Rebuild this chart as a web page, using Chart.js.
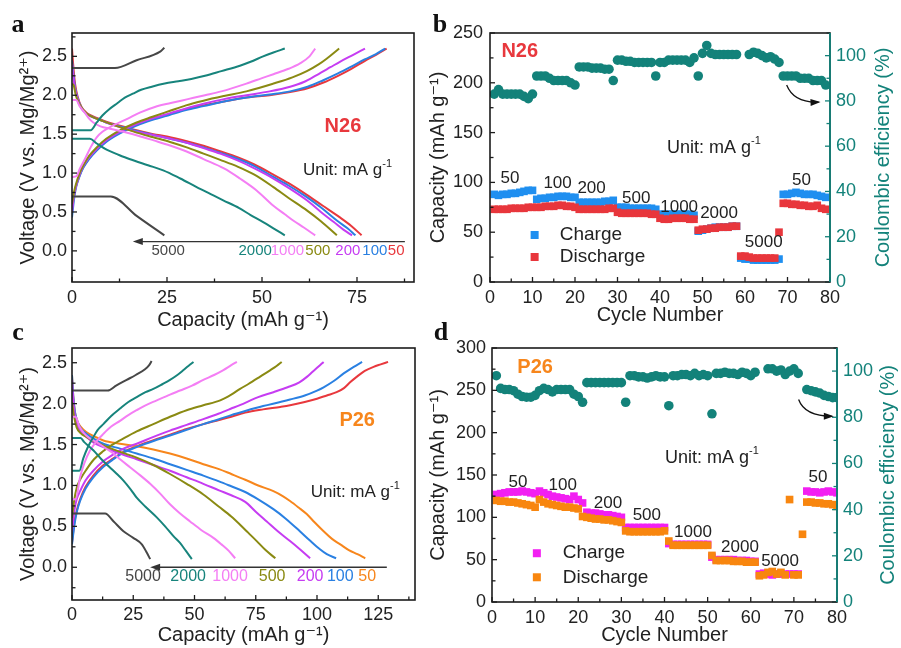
<!DOCTYPE html>
<html><head><meta charset="utf-8">
<script src="https://cdn.jsdelivr.net/npm/chart.js@4.4.1/dist/chart.umd.min.js"></script>
<style>
html,body{margin:0;padding:0;background:#fff;}
#wrap{position:relative;width:901px;height:648px;overflow:hidden;background:#fff;}
canvas{position:absolute;}
.lt{position:absolute;font:bold 26px "Liberation Serif","Times New Roman",serif;color:#111;transform:translate(-50%,-50%);line-height:1;}
</style></head><body>
<div id="wrap">
<canvas id="ca" width="450" height="335" style="left:0;top:0"></canvas>
<canvas id="cb" width="481" height="335" style="left:420px;top:0"></canvas>
<canvas id="cc" width="450" height="323" style="left:0;top:325px"></canvas>
<canvas id="cd" width="481" height="323" style="left:420px;top:325px"></canvas>
<div class="lt" style="left:18px;top:24px">a</div>
<div class="lt" style="left:440px;top:24px">b</div>
<div class="lt" style="left:18px;top:332px">c</div>
<div class="lt" style="left:441px;top:332px">d</div>
</div>
<script>
// ---------------- DATA ----------------
// Panel a (N26) galvanostatic curves: [capacity mAh/g, voltage V]
const aChg5000 = [[0,2.35],[11.3,2.35],[17,2.45],[23.2,2.56],[24.3,2.61]];
const aDis5000 = [[0,0.7],[10.2,0.7],[17,0.45],[24.3,0.2]];
const aChg2000 = [[0,1.55],[4.9,1.55],[6.5,1.65],[8,1.74],[9.8,1.82],[12,1.9],[13.9,1.97],[16,2.02],[18.2,2.07],[21,2.11],[24.4,2.15],[28,2.18],[31.4,2.21],[35,2.25],[39.3,2.31],[44.2,2.38],[47,2.43],[50.3,2.5],[53,2.55],[56,2.6]];
const aDis2000 = [[0,1.44],[4.7,1.44],[6.5,1.38],[9.1,1.3],[12,1.24],[15.1,1.18],[20,1.1],[24,1.035],[28.5,0.93],[32.8,0.82],[36.5,0.73],[39.8,0.65],[44,0.55],[47,0.46],[50.3,0.37],[53,0.29],[56,0.2]];
const aChg1000 = [[0,0.95],[1.2,0.96],[2,1.05],[3.4,1.18],[5,1.34],[6.5,1.46],[8,1.53],[10,1.59],[14.7,1.7],[18,1.78],[21.8,1.85],[26,1.9],[30.5,1.95],[35,2.0],[39.3,2.05],[45.9,2.15],[50,2.22],[53,2.27],[57,2.34],[60,2.41],[62.5,2.5],[64,2.6]];
const aDis1000 = [[0,1.94],[1.1,1.94],[2,1.86],[3.3,1.78],[4.5,1.7],[5.6,1.65],[7.5,1.6],[10,1.57],[13.5,1.53],[17.4,1.48],[21.5,1.42],[25.8,1.355],[30,1.28],[34.6,1.18],[40,1.06],[44.2,0.93],[48.5,0.78],[53,0.58],[56,0.47],[58.2,0.39],[61,0.3],[64,0.2]];
const aChg500 = [[0,0.6],[0.5,0.75],[1,0.85],[2,1.0],[3,1.1],[4.5,1.22],[6.5,1.33],[9,1.44],[12.6,1.55],[17,1.65],[21,1.72],[25.8,1.8],[30,1.87],[34.6,1.93],[40,1.99],[45.9,2.05],[53,2.15],[58,2.23],[61.8,2.31],[65,2.4],[67,2.47],[70.3,2.6]];
const aDis500 = [[0,2.15],[0.5,2.12],[1,2.0],[1.8,1.9],[2.8,1.82],[4,1.76],[5.5,1.72],[8,1.67],[12.6,1.59],[17,1.52],[21.4,1.46],[25.8,1.4],[30.2,1.33],[34.6,1.25],[39,1.17],[43.7,1.08],[48,0.98],[53,0.82],[57,0.68],[61.8,0.52],[65.5,0.38],[69.7,0.2]];
const aChg200 = [[0,0.5],[0.5,0.7],[1,0.82],[2,0.98],[3,1.09],[4.5,1.2],[6.5,1.31],[9,1.42],[12.6,1.53],[17,1.63],[21,1.7],[25.8,1.77],[30,1.83],[34.6,1.89],[40,1.95],[45.9,2.0],[52,2.05],[57.4,2.11],[61,2.17],[64.4,2.26],[68,2.36],[70.5,2.43],[74,2.52],[77.1,2.6]];
const aDis200 = [[0,2.4],[0.3,2.25],[0.8,2.08],[1.5,1.95],[2.5,1.83],[3.7,1.77],[5,1.73],[6.5,1.7],[9,1.65],[12.6,1.59],[17,1.53],[21.4,1.49],[25,1.45],[30.2,1.39],[34.6,1.32],[39,1.25],[43.7,1.16],[48,1.06],[53,0.93],[57,0.81],[61.8,0.65],[65.5,0.5],[68.9,0.37],[71.5,0.27],[73.7,0.2]];
const aChg100 = [[0,0.43],[0.5,0.65],[1,0.8],[2,0.96],[3,1.07],[4.5,1.18],[6.5,1.29],[9,1.4],[12.6,1.51],[17,1.61],[21,1.68],[25.8,1.75],[30,1.81],[34.6,1.86],[40,1.92],[45.9,1.97],[52,2.01],[57.4,2.05],[62,2.11],[66,2.19],[70,2.28],[73.2,2.36],[77,2.46],[80,2.53],[82.4,2.6]];
const aDis100 = [[0,2.45],[0.3,2.3],[0.8,2.1],[1.5,1.96],[2.5,1.84],[3.7,1.77],[5,1.73],[6.5,1.7],[9,1.65],[12.6,1.6],[17,1.54],[21.4,1.49],[25,1.45],[30.2,1.39],[34.6,1.33],[39,1.26],[43.7,1.18],[48,1.09],[53,0.95],[57,0.84],[61.8,0.69],[65.7,0.55],[69.7,0.39],[72.5,0.29],[74.6,0.2]];
const aChg50 = [[0,0.55],[0.5,0.7],[1,0.82],[2,0.97],[3,1.08],[4.5,1.19],[6.5,1.3],[9,1.41],[12.6,1.52],[17,1.62],[21,1.69],[25.8,1.76],[30,1.82],[34.6,1.87],[40,1.92],[45.9,1.97],[52,2.0],[57.4,2.04],[62,2.09],[66,2.16],[70,2.25],[73.5,2.34],[77,2.44],[80,2.52],[82.8,2.6]];
const aDis50 = [[0,2.6],[0.3,2.4],[0.8,2.15],[1.5,1.98],[2.5,1.85],[3.7,1.78],[5,1.74],[6.5,1.71],[9,1.66],[12.6,1.61],[17,1.55],[21.4,1.5],[25,1.47],[30.2,1.41],[34.6,1.35],[39,1.28],[43.7,1.2],[48,1.11],[53,0.98],[57,0.87],[61.8,0.72],[66,0.58],[70.5,0.43],[73.5,0.32],[76.2,0.2]];

// Panel c (P26) galvanostatic curves
const cChg5000 = [[0,2.16],[14.6,2.16],[18,2.22],[22.3,2.29],[26,2.35],[29.8,2.42],[31.5,2.47],[32.5,2.52]];
const cDis5000 = [[0,0.656],[13.5,0.656],[17,0.56],[21,0.44],[25,0.36],[28.5,0.28],[30.5,0.18],[31.9,0.1]];
const cChg2000 = [[0,1.18],[3,1.18],[4.6,1.33],[6.5,1.47],[8.7,1.59],[10.5,1.68],[12.8,1.75],[16,1.85],[19.6,1.94],[23,2.02],[26.4,2.08],[30,2.14],[33.2,2.18],[37,2.24],[40,2.29],[43,2.35],[45.5,2.41],[47.5,2.46],[49.6,2.51]];
const cDis2000 = [[0,1.58],[3.5,1.58],[5,1.53],[8.7,1.43],[12,1.32],[15.5,1.22],[18,1.15],[21,1.06],[24,0.95],[26.4,0.85],[30,0.74],[34.6,0.61],[38,0.5],[41.4,0.38],[44,0.3],[46.5,0.2],[48.9,0.1]];
const cChg1000 = [[0,0.83],[1.5,0.83],[3.3,1.1],[5,1.27],[7.4,1.43],[10,1.54],[12.8,1.63],[16,1.72],[19.6,1.79],[23,1.86],[26.4,1.92],[30,1.98],[34.6,2.04],[40,2.11],[44.1,2.16],[49,2.22],[53.6,2.29],[58,2.35],[61.8,2.41],[65,2.47],[67.3,2.51]];
const cDis1000 = [[0,1.84],[1.5,1.84],[3,1.72],[4.6,1.65],[7,1.58],[10,1.53],[13.5,1.46],[16.9,1.39],[20,1.31],[23.8,1.22],[28,1.12],[31.9,1.02],[36,0.9],[40,0.77],[44,0.66],[48.2,0.56],[53,0.45],[57.7,0.36],[61,0.28],[64,0.2],[66.6,0.11]];
const cChg500 = [[0,0.6],[0.8,0.8],[1.9,0.97],[3.5,1.08],[6,1.2],[9,1.32],[12.8,1.42],[16,1.49],[19.6,1.55],[26.4,1.66],[33.2,1.75],[40,1.84],[46.8,1.92],[53.6,1.98],[60.5,2.04],[65,2.11],[68.6,2.18],[72,2.24],[76.8,2.33],[81,2.41],[83.5,2.46],[85.6,2.51]];
const cDis500 = [[0,2.02],[0.8,1.85],[1.9,1.71],[3.5,1.64],[6,1.59],[9,1.54],[12.8,1.49],[19.6,1.41],[26.4,1.34],[33.2,1.25],[40,1.14],[46.8,1.02],[53.6,0.89],[60,0.74],[65,0.62],[68.6,0.52],[72,0.42],[75.4,0.32],[79,0.21],[83,0.11]];
const cChg200 = [[0,0.44],[1,0.7],[2,0.84],[3.3,0.93],[5.5,1.06],[8.7,1.18],[12.5,1.29],[16.9,1.38],[21,1.45],[26.4,1.51],[33,1.59],[40,1.67],[46.8,1.74],[53.6,1.81],[60,1.88],[65,1.94],[70.7,2.01],[76,2.08],[82.2,2.14],[88,2.2],[92.8,2.26],[96,2.33],[98.2,2.39],[100.5,2.45],[102.7,2.51]];
const cDis200 = [[0,2.29],[0.5,2.05],[1.2,1.85],[2,1.75],[3.5,1.66],[6,1.59],[9,1.52],[12.8,1.47],[19.6,1.39],[26.4,1.32],[33.2,1.25],[40,1.18],[46.8,1.1],[53.6,1.02],[60,0.94],[65,0.88],[70.7,0.8],[75,0.68],[79.5,0.56],[84,0.44],[89,0.32],[93,0.22],[97.2,0.11]];
const cChg100 = [[0,0.28],[1,0.52],[2,0.68],[3.3,0.81],[5.5,0.96],[8.7,1.1],[12.5,1.22],[16.9,1.32],[21,1.4],[26.4,1.47],[33,1.54],[40,1.61],[46.8,1.68],[53.6,1.75],[60,1.81],[65,1.86],[70.7,1.91],[78,1.97],[85,2.02],[89,2.05],[95,2.1],[100,2.16],[102.7,2.2],[107,2.28],[110.9,2.37],[115,2.45],[118.4,2.51]];
const cDis100 = [[0,2.35],[0.5,2.1],[1.2,1.9],[2,1.8],[3.5,1.7],[6,1.63],[9,1.57],[12.8,1.51],[19.6,1.45],[26.4,1.39],[33.2,1.33],[40,1.26],[46.8,1.19],[53.6,1.12],[60,1.05],[65,0.99],[70.7,0.92],[76,0.83],[82.2,0.71],[87,0.6],[93,0.44],[97,0.33],[101.2,0.22],[104,0.16],[107.8,0.11]];
const cChg50 = [[0,0.3],[1,0.55],[2,0.7],[3.3,0.83],[5.5,0.98],[8.7,1.12],[12.5,1.24],[16.9,1.33],[21,1.41],[26.4,1.48],[33,1.55],[40,1.62],[46.8,1.69],[53.6,1.75],[60,1.8],[65,1.84],[70.7,1.89],[78,1.93],[85,1.96],[89,1.98],[95,2.02],[100,2.06],[104,2.1],[108,2.14],[111,2.19],[113.5,2.26],[116.3,2.33],[119.5,2.4],[123.1,2.45],[126,2.48],[129,2.51]];
const cDis50 = [[0,2.35],[0.5,2.1],[1.2,1.9],[2,1.8],[3.5,1.72],[6,1.65],[9,1.6],[12.8,1.55],[19.6,1.51],[26.4,1.48],[33.2,1.44],[40,1.39],[46.8,1.33],[53.6,1.26],[60,1.2],[65,1.14],[70.7,1.07],[76,1.0],[82.2,0.93],[86,0.87],[89,0.81],[92.5,0.73],[95.8,0.65],[99,0.55],[102.7,0.44],[106,0.35],[109.5,0.28],[113,0.21],[116.5,0.16],[119.7,0.11]];

// Panel b (N26) rate performance
const bCycles = [1,2,3,4,5,6,7,8,9,10,11,12,13,14,15,16,17,18,19,20,21,22,23,24,25,26,27,28,29,30,31,32,33,34,35,36,37,38,39,40,41,42,43,44,45,46,47,48,49,50,51,52,53,54,55,56,57,58,59,60,61,62,63,64,65,66,67,68,69,70,71,72,73,74,75,76,77,78,79];
const bCharge = [88,87,88,88,89,89,90,91,92,92, 83,84,84,85,85,86,86,86,85,85, 80,80,80,80,80,80,81,81,82, 75,75,75,74,74,74,74,74,74,73, 68,68,68,68,68,68,68,68,67, 51,52,53,54,55,55,55,55,56,56, 24,23,23,22,22,22,22,22,22,23, 88,88,89,90,89,88,88,88,87,86,85];
const bDischarge = [73,73,73,73,74,74,74,74,75,75, 75,75,76,76,76,77,77,76,76,75, 73,73,73,73,73,73,73,74,74, 70,69,69,69,69,69,69,69,68,68, 64,63,63,64,64,64,64,63,63, 52,53,53,54,54,55,55,55,56,56, 26,26,25,24,24,24,24,24,24,50, 79,79,78,78,77,77,76,76,77,74,73];
const bCE = [83,85,83,83,83,83,83,82,81,83, 91,91,91,90,89,89,89,89,88,87, 95,95,95,94.5,94.5,94.5,94,94,89, 98,98,97.5,97.5,97,97,97,97,97,91, 97,97,98,98,98,98,98,97,99, 91,101,104.5,101,100.5,100.5,100.5,100.5,100.5,100.5, null,null,100.5,101.5,101,100,99,99.5,98.5,97, 91,91,91,91,90,90,90,89,89,89,87];

// Panel d (P26) rate performance
const dCycles = [1,2,3,4,5,6,7,8,9,10,11,12,13,14,15,16,17,18,19,20,21,22,23,24,25,26,27,28,29,30,31,32,33,34,35,36,37,38,39,40,41,42,43,44,45,46,47,48,49,50,51,52,53,54,55,56,57,58,59,60,61,62,63,64,65,66,67,68,69,70,71,72,73,74,75,76,77,78,79,80];
const dCharge = [127,128,129,130,130,130,131,130,129,128, 131,129,127,125,124,123,122,121,125,121, 117,106,105,105,104,103,103,102,101,100, 88,88,88,88,88,88,88,88,88,88, 69,68,68,68,68,68,68,68,68,68, 53,50,50,50,50,50,49,49,49,48,48, 33,34,33,32,33,33,33,33,33,33, null, 131,130,130,129,130,131,130,129];
const dDischarge = [120,119,119,118,118,117,116,115,114,112, 121,118,116,115,114,113,112,112,111,110, 101,100,99,98,98,97,97,96,95,94, 84,83,83,83,83,83,83,83,83,84, 72,67,67,67,67,67,67,67,67,67, 55,49,49,49,49,48,48,48,47,47,47, 31,32,35,36,33,35,32,121,32,32, 80, 118,118,117,117,116,116,115,113];
const dCE = [98,92.5,92,92,91.5,90,89,88.7,88.7,89.5, 91.5,92.5,92,91,92,92,92,92,90,89, 86.5,95,95,95,95,95,95,95,95,95, 86.5,98,98,97.5,97.5,97,97.5,98,97.5,97.5, 85,98,98,98.5,98.5,98,99,98,98.5,98, 81.5,99,99,99.5,99,99,98.5,99.5,99,98,99.5, null,null,101,101,100,100.5,98.5,100,101,99, null, 92,91.5,91,90.5,89.5,89,88.5,88.5];

// Tick values and labels
const aXTicks = [0,25,50,75], aXMinor = [12.5,37.5,62.5,87.5];
const vTicks = [0,0.5,1.0,1.5,2.0,2.5], vMinor = [-0.25,0.25,0.75,1.25,1.75,2.25,2.75];
const cXTicks = [0,25,50,75,100,125], cXMinor = [12.5,37.5,62.5,87.5,112.5,137.5];
const cycTicks = [0,10,20,30,40,50,60,70,80], cycMinor = [5,15,25,35,45,55,65,75];
const bYTicks = [0,50,100,150,200,250], bYMinor = [25,75,125,175,225];
const dYTicks = [0,50,100,150,200,250,300], dYMinor = [25,75,125,175,225,275];
const ceTicks = [0,20,40,60,80,100], ceMinor = [10,30,50,70,90,110];
const rateLabels = ['5000','2000','1000','500','200','100','50'];
const bRateLabels = ['50','100','200','500','1000','2000','5000','50'];

// ---------------- STYLE / RENDER ----------------
const SANS = '"Liberation Sans", Arial, "DejaVu Sans", sans-serif';
Chart.defaults.font.family = SANS;
Chart.defaults.color = '#222';
const C = {red:'#e8383d', blue:'#2a80e2', mag:'#c63cf2', olive:'#8a8a12', pink:'#f47ef4', teal:'#17847c', gray:'#474747', orange:'#f7861c',
           bCh:'#1f8ff0', bDis:'#e8363c', dCh:'#f21ff2', dDis:'#f8860f', ce:'#13827a'};
const AX = '#1c1c1c';

const toXY = arr => arr.map(p => ({x:p[0], y:p[1]}));
const zip = (xs, ys) => xs.map((x,i) => ({x:x, y:ys[i]}));
function curve(data, color){
  return {data:toXY(data), borderColor:color, backgroundColor:color, showLine:true, pointRadius:0, borderWidth:2,
          cubicInterpolationMode:'monotone', fill:false};
}
function axis(o){
  return {
    type:'linear', position:o.pos, min:o.min, max:o.max,
    afterBuildTicks: s => { s.ticks = o.ticks.map(v => ({value:v})); },
    afterFit: s => { if (o.pos === 'bottom') s.height = o.size; else s.width = o.size; },
    grid:{display:false, drawTicks:false}, border:{display:false},
    ticks:{padding:o.pad, color:o.color || '#222', font:{size:18}, autoSkip:false, maxRotation:0,
           callback: o.fmt || (v => String(v))},
    title:{display:!!o.title, text:o.title || '', color:o.color || '#222', font:{size:20}, padding:o.tpad || 0}
  };
}
function richText(ctx, parts, x, y, size, color, align, bold){
  const base = (bold ? 'bold ' : '') + size + 'px ' + SANS;
  const sup = Math.round(size * 0.62) + 'px ' + SANS;
  let w = 0;
  parts.forEach(p => { ctx.font = p[1] ? sup : base; w += ctx.measureText(p[0]).width; });
  let cx = align === 'left' ? x : (align === 'right' ? x - w : x - w / 2);
  ctx.fillStyle = color; ctx.textAlign = 'left'; ctx.textBaseline = 'middle';
  parts.forEach(p => { ctx.font = p[1] ? sup : base; ctx.fillText(p[0], cx, p[1] ? y - size * 0.38 : y); cx += ctx.measureText(p[0]).width; });
}
function hArrow(ctx, x1, x2, y, color){
  ctx.strokeStyle = color; ctx.fillStyle = color; ctx.lineWidth = 1.3;
  ctx.beginPath(); ctx.moveTo(x1 + 6, y); ctx.lineTo(x2, y); ctx.stroke();
  ctx.beginPath(); ctx.moveTo(x1, y); ctx.lineTo(x1 + 10, y - 3.5); ctx.lineTo(x1 + 10, y + 3.5); ctx.closePath(); ctx.fill();
}
function curveArrow(ctx, x0, y0, cx, cy, x1, y1){
  ctx.strokeStyle = '#111'; ctx.fillStyle = '#111'; ctx.lineWidth = 1.3;
  ctx.beginPath(); ctx.moveTo(x0, y0); ctx.quadraticCurveTo(cx, cy, x1, y1); ctx.stroke();
  const a = Math.atan2(y1 - cy, x1 - cx);
  ctx.beginPath(); ctx.moveTo(x1 + 2*Math.cos(a), y1 + 2*Math.sin(a));
  ctx.lineTo(x1 - 8*Math.cos(a) + 3.5*Math.sin(a), y1 - 8*Math.sin(a) - 3.5*Math.cos(a));
  ctx.lineTo(x1 - 8*Math.cos(a) - 3.5*Math.sin(a), y1 - 8*Math.sin(a) + 3.5*Math.cos(a));
  ctx.closePath(); ctx.fill();
}
function vTitle(ctx, text, x, y, color){
  ctx.save(); ctx.translate(x, y); ctx.rotate(-Math.PI / 2);
  ctx.font = '20px ' + SANS; ctx.fillStyle = color; ctx.textAlign = 'center'; ctx.textBaseline = 'middle';
  ctx.fillText(text, 0, 0); ctx.restore();
}
// frame + inward ticks + extras
function decor(spec){
  return {
    id:'decor',
    afterDatasetsDraw(chart){
      const ctx = chart.ctx, a = chart.chartArea;
      ctx.save();
      spec.ticks.forEach(t => {
        const sc = chart.scales[t.axis];
        ctx.strokeStyle = t.color || AX; ctx.lineWidth = 1.3;
        const draw = (v, L) => {
          const p = sc.getPixelForValue(v);
          if (p < a.top - 0.5 || p > a.bottom + 0.5 && t.side !== 'bottom') return;
          ctx.beginPath();
          if (t.side === 'bottom') { ctx.moveTo(p, a.bottom); ctx.lineTo(p, a.bottom - L); }
          else if (t.side === 'left') { ctx.moveTo(a.left, p); ctx.lineTo(a.left + L, p); }
          else { ctx.moveTo(a.right, p); ctx.lineTo(a.right - L, p); }
          ctx.stroke();
        };
        t.major.forEach(v => draw(v, 5));
        t.minor.forEach(v => draw(v, 3.5));
      });
      ctx.strokeStyle = AX; ctx.lineWidth = 1.6;
      ctx.strokeRect(a.left, a.top, a.right - a.left, a.bottom - a.top);
      if (spec.rightColor) {
        ctx.strokeStyle = spec.rightColor; ctx.lineWidth = 1.8;
        ctx.beginPath(); ctx.moveTo(a.right, a.top); ctx.lineTo(a.right, a.bottom); ctx.stroke();
      }
      const X = v => chart.scales.x.getPixelForValue(v);
      const Y = v => chart.scales.y.getPixelForValue(v);
      const Y2 = chart.scales.y2 ? (v => chart.scales.y2.getPixelForValue(v)) : null;
      spec.extras(ctx, X, Y, Y2, chart);
      ctx.restore();
    }
  };
}
const baseOpts = (pad, scales) => ({
  responsive:false, animation:false, events:[],
  layout:{padding:pad, autoPadding:false},
  plugins:{legend:{display:false}, tooltip:{enabled:false}},
  scales:scales
});

// ---------- Panel a ----------
new Chart(document.getElementById('ca'), {
  type:'scatter',
  data:{datasets:[
    curve(aChg5000, C.gray), curve(aDis5000, C.gray),
    curve(aChg2000, C.teal), curve(aDis2000, C.teal),
    curve(aChg1000, C.pink), curve(aDis1000, C.pink),
    curve(aChg500, C.olive), curve(aDis500, C.olive),
    curve(aChg200, C.mag), curve(aDis200, C.mag),
    curve(aChg100, C.blue), curve(aDis100, C.blue),
    curve(aChg50, C.red), curve(aDis50, C.red)
  ]},
  options: baseOpts({left:0, top:33, right:36, bottom:0}, {
    x: axis({pos:'bottom', min:0, max:90, ticks:aXTicks, size:53, pad:5, title:'Capacity (mAh g⁻¹)', tpad:{top:0, bottom:3}}),
    y: axis({pos:'left', min:-0.4, max:2.8, ticks:vTicks, size:72, pad:5, fmt:v => v.toFixed(1), title:'Voltage (V vs. Mg/Mg²⁺)', tpad:{top:16, bottom:0}})
  }),
  plugins:[decor({
    ticks:[{axis:'x', side:'bottom', major:aXTicks, minor:aXMinor}, {axis:'y', side:'left', major:vTicks, minor:vMinor}],
    extras:(ctx, X, Y) => {
      hArrow(ctx, X(16), X(87.6), Y(0.12), '#333');
      const cols = [C.gray, C.teal, C.pink, C.olive, C.mag, C.blue, C.red];
      const xs = [25.3, 48.2, 56.7, 64.7, 72.6, 79.7, 85.3];
      ctx.font = '15px ' + SANS; ctx.textAlign = 'center'; ctx.textBaseline = 'middle';
      rateLabels.forEach((t, i) => { ctx.fillStyle = cols[i]; ctx.fillText(t, X(xs[i]), Y(0.0)); });
      richText(ctx, [['N26', 0]], X(71.3), Y(1.6), 20, C.red, 'center', true);
      richText(ctx, [['Unit: mA g', 0], ['-1', 1]], X(72.5), Y(1.03), 17, '#222', 'center', false);
    }
  })]
});

// ---------- Panel c ----------
new Chart(document.getElementById('cc'), {
  type:'scatter',
  data:{datasets:[
    curve(cChg5000, C.gray), curve(cDis5000, C.gray),
    curve(cChg2000, C.teal), curve(cDis2000, C.teal),
    curve(cChg1000, C.pink), curve(cDis1000, C.pink),
    curve(cChg500, C.olive), curve(cDis500, C.olive),
    curve(cChg200, C.mag), curve(cDis200, C.mag),
    curve(cChg100, C.blue), curve(cDis100, C.blue),
    curve(cDis50, C.orange), curve(cChg50, C.red)
  ]},
  options: baseOpts({left:0, top:23, right:35, bottom:0}, {
    x: axis({pos:'bottom', min:0, max:140, ticks:cXTicks, size:48, pad:4, title:'Capacity (mAh g⁻¹)', tpad:{top:0, bottom:1}}),
    y: axis({pos:'left', min:-0.4, max:2.68, ticks:vTicks, size:72, pad:5, fmt:v => v.toFixed(1), title:'Voltage (V vs. Mg/Mg²⁺)', tpad:{top:16, bottom:0}})
  }),
  plugins:[decor({
    ticks:[{axis:'x', side:'bottom', major:cXTicks, minor:cXMinor}, {axis:'y', side:'left', major:vTicks, minor:vMinor}],
    extras:(ctx, X, Y) => {
      hArrow(ctx, X(31.9), X(128.5), Y(0.0), '#333');
      const cols = [C.gray, C.teal, C.pink, C.olive, C.mag, C.blue, C.orange];
      const xs = [29, 47.4, 64.5, 81.7, 97.2, 109.5, 120.5];
      ctx.font = '16px ' + SANS; ctx.textAlign = 'center'; ctx.textBaseline = 'middle';
      rateLabels.forEach((t, i) => { ctx.fillStyle = cols[i]; ctx.fillText(t, X(xs[i]), Y(-0.11)); });
      richText(ctx, [['P26', 0]], X(116.4), Y(1.79), 20, C.orange, 'center', true);
      richText(ctx, [['Unit: mA g', 0], ['-1', 1]], X(115.6), Y(0.92), 17, '#222', 'center', false);
    }
  })]
});

// ---------- rate charts ----------
function rateChart(id, cyc, ch, dis, ce, chCol, disCol, cfg){
  new Chart(document.getElementById(id), {
    type:'scatter',
    data:{datasets:[
      {data:zip(cyc, dis), yAxisID:'y', pointStyle:'rect', pointRadius:5.4, borderWidth:0, backgroundColor:disCol, borderColor:disCol},
      {data:zip(cyc, ch), yAxisID:'y', pointStyle:'rect', pointRadius:5.4, borderWidth:0, backgroundColor:chCol, borderColor:chCol},
      {data:zip(cyc, ce), yAxisID:'y2', pointStyle:'circle', pointRadius:4.8, borderWidth:0, backgroundColor:C.ce, borderColor:C.ce}
    ]},
    options: baseOpts(cfg.pad, {
      x: axis({pos:'bottom', min:0, max:80, ticks:cycTicks, size:cfg.xh, pad:5, title:'Cycle Number', tpad:{top:0, bottom:cfg.xtb}}),
      y: axis({pos:'left', min:0, max:cfg.ymax, ticks:cfg.yTicks, size:cfg.yw, pad:cfg.ypad, title:'Capacity (mAh g⁻¹)', tpad:{top:6, bottom:0}}),
      y2: axis({pos:'right', min:0, max:110, ticks:ceTicks, size:cfg.y2w, pad:6, color:C.ce})
    }),
    plugins:[decor({
      rightColor:C.ce,
      ticks:[{axis:'x', side:'bottom', major:cycTicks, minor:cycMinor},
             {axis:'y', side:'left', major:cfg.yTicks, minor:cfg.yMinor},
             {axis:'y2', side:'right', major:ceTicks, minor:ceMinor, color:C.ce}],
      extras:(ctx, X, Y, Y2, chart) => {
        const a = chart.chartArea;
        vTitle(ctx, 'Coulombic efficiency (%)', cfg.rtX, (a.top + a.bottom) / 2, C.ce);
        richText(ctx, [[cfg.name, 0]], X(cfg.nameAt[0]), Y(cfg.nameAt[1]), 20, cfg.nameCol, 'center', true);
        richText(ctx, [['Unit: mA g', 0], ['-1', 1]], X(cfg.unitAt[0]), Y(cfg.unitAt[1]), 18, '#222', 'center', false);
        ctx.font = '17px ' + SANS; ctx.fillStyle = '#222'; ctx.textAlign = 'center'; ctx.textBaseline = 'middle';
        bRateLabels.forEach((t, i) => ctx.fillText(t, X(cfg.rates[i][0]), Y(cfg.rates[i][1])));
        // legend
        const L = cfg.legend;
        [[chCol, 'Charge', L.y1], [disCol, 'Discharge', L.y2]].forEach(r => {
          ctx.fillStyle = r[0]; ctx.fillRect(X(L.mx) - 4, Y(r[2]) - 4, 8, 8);
          ctx.fillStyle = '#222'; ctx.font = '19px ' + SANS; ctx.textAlign = 'left';
          ctx.fillText(r[1], X(L.tx), Y(r[2]));
        });
        const A = cfg.arrow;
        curveArrow(ctx, X(A[0]), Y2(A[1]), X(A[2]), Y2(A[3]), X(A[4]), Y2(A[5]));
      }
    })]
  });
}
rateChart('cb', bCycles, bCharge, bDischarge, bCE, C.bCh, C.bDis, {
  pad:{left:0, top:33, right:0, bottom:0}, xh:53, xtb:8, yw:70, y2w:71, ymax:250, ypad:7,
  yTicks:bYTicks, yMinor:bYMinor, rtX:463,
  name:'N26', nameCol:C.red, nameAt:[7, 231], unitAt:[52.7, 134.5],
  rates:[[4.7,104.4],[15.9,99.4],[23.9,94.4],[34.4,84.3],[44.5,75.3],[53.9,69.3],[64.4,40.2],[73.3,102.4]],
  legend:{mx:10.5, tx:16.4, y1:47.2, y2:25.1},
  arrow:[69.8, 87, 71.5, 79, 77.3, 79.5]
});
rateChart('cd', dCycles, dCharge, dDischarge, dCE, C.dCh, C.dDis, {
  pad:{left:0, top:23, right:0, bottom:0}, xh:46, xtb:1, yw:72, y2w:64, ymax:300, ypad:6,
  yTicks:dYTicks, yMinor:dYMinor, rtX:468,
  name:'P26', nameCol:C.orange, nameAt:[10, 276.7], unitAt:[51, 170],
  rates:[[6,141.7],[16.4,138],[26.9,116.8],[35.9,102.6],[46.6,82.5],[57.5,64.7],[66.8,48.2],[75.6,147.6]],
  legend:{mx:10.4, tx:16.4, y1:57.6, y2:29.2},
  arrow:[71.1, 87.7, 72.5, 80.5, 78.8, 80.4]
});
</script>
</body></html>
